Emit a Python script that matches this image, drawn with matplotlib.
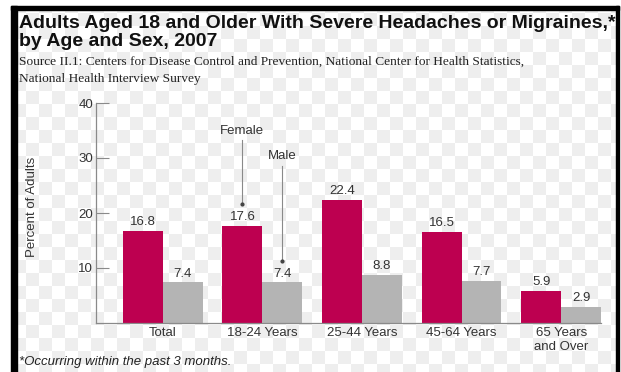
import matplotlib
import numpy as np

matplotlib.use("Agg")
import matplotlib.pyplot as plt  # noqa: E402
from matplotlib.patches import Rectangle  # noqa: E402

W, H = 621, 372

groups = ["Total", "18-24 Years", "25-44 Years", "45-64 Years", "65 Years\nand Over"]
female = [16.8, 17.6, 22.4, 16.5, 5.9]
male = [7.4, 7.4, 8.8, 7.7, 2.9]
yticks = [10, 20, 30, 40]

FEMALE_C = "#bd0050"
MALE_C = "#b4b4b4"
AXIS_C = "#8a8a8a"
TEXT_C = "#333333"
SANS = ["Liberation Sans", "DejaVu Sans"]
FS = 9.5

plt.rcParams["font.family"] = SANS

fig = plt.figure(figsize=(W / 100, H / 100), dpi=100)


def px(x, y):
    """pixel coords (top-left origin) -> figure fraction"""
    return x / W, 1 - y / H


# faint checkerboard backdrop inside the frame
bg = fig.add_axes([0, 0, 1, 1], zorder=-5)
cell = 13
yy, xx = np.mgrid[0:H, 0:W]
board = ((xx // cell + yy // cell) % 2).astype(float)
bg.imshow(board, cmap=matplotlib.colors.ListedColormap(["#ffffff", "#eeeeee"]),
          extent=[0, W, H, 0], interpolation="nearest", aspect="auto")
bg.add_patch(Rectangle((0, 0), W, 6, color="white"))
bg.add_patch(Rectangle((0, 0), 11, H, color="white"))
bg.add_patch(Rectangle((619, 0), 2, H, color="white"))
# black frame: heavy left edge, lighter top and right
bg.add_patch(Rectangle((11, 6), 6, H, color="black"))
bg.add_patch(Rectangle((11, 6), 608, 4, color="black"))
bg.add_patch(Rectangle((616, 6), 3, H, color="black"))
bg.set_xlim(0, W)
bg.set_ylim(H, 0)
bg.axis("off")

# headline, source and footnote
fig.text(*px(19, 24), "Adults Aged 18 and Older With Severe Headaches or Migraines,*",
         fontsize=14.0, fontweight="bold", va="center", ha="left", color="#111")
fig.text(*px(19, 42), "by Age and Sex, 2007",
         fontsize=14.0, fontweight="bold", va="center", ha="left", color="#111")
fig.text(*px(19, 62),
         "Source II.1: Centers for Disease Control and Prevention, National Center for Health Statistics,",
         fontsize=9.6, family="Liberation Serif", va="center", ha="left", color="#222")
fig.text(*px(19, 79), "National Health Interview Survey",
         fontsize=9.6, family="Liberation Serif", va="center", ha="left", color="#222")
fig.text(*px(19, 362), "*Occurring within the past 3 months.",
         fontsize=FS, style="italic", va="center", ha="left", color="#222")

# plotting area: y 0..40 spans pixel rows 323..103, x spans 96..601
left, bottom = px(96, 323)
right, top = px(601, 103)
ax = fig.add_axes([left, bottom, right - left, top - bottom])
ax.patch.set_alpha(0)

x = np.arange(len(groups))
bw = 0.4
ax.bar(x - bw / 2, female, bw, color=FEMALE_C, zorder=2)
ax.bar(x + bw / 2, male, bw, color=MALE_C, zorder=2)

for xi, v in zip(x - bw / 2, female):
    ax.text(xi, v + 0.5, f"{v:.1f}", ha="center", va="bottom", fontsize=FS, color=TEXT_C)
for xi, v in zip(x + bw / 2, male):
    ax.text(xi, v + 0.5, f"{v:.1f}", ha="center", va="bottom", fontsize=FS, color=TEXT_C)

# series callouts on the 18-24 group
fx, mx = x[1] - bw / 2, x[1] + bw / 2
ax.text(fx, 34.9, "Female", ha="center", va="center", fontsize=FS, color=TEXT_C)
ax.plot([fx, fx], [33.2, 21.6], color=AXIS_C, lw=0.8)
ax.plot([fx], [21.6], marker="o", ms=2, color="#444")
ax.text(mx, 30.4, "Male", ha="center", va="center", fontsize=FS, color=TEXT_C)
ax.plot([mx, mx], [28.6, 11.2], color=AXIS_C, lw=0.8)
ax.plot([mx], [11.2], marker="o", ms=2, color="#444")

ax.set_xlim(-0.67, 4.40)
ax.set_ylim(0, 40)
ax.set_yticks(yticks)
ax.set_xticks(x)
ax.set_xticklabels(groups, linespacing=1.25)
ax.tick_params(axis="y", direction="in", length=9, width=0.8, color=AXIS_C,
               labelsize=FS, labelcolor=TEXT_C, pad=2)
ax.tick_params(axis="x", length=0, labelsize=FS, labelcolor=TEXT_C, pad=3)
for side in ("top", "right"):
    ax.spines[side].set_visible(False)
for side in ("left", "bottom"):
    ax.spines[side].set_color(AXIS_C)
    ax.spines[side].set_linewidth(0.9)
ax.set_ylabel("Percent of Adults", fontsize=FS, color=TEXT_C)
ax.yaxis.set_label_coords(-0.115, 0.527)

fig.savefig("out.png", dpi=100)
